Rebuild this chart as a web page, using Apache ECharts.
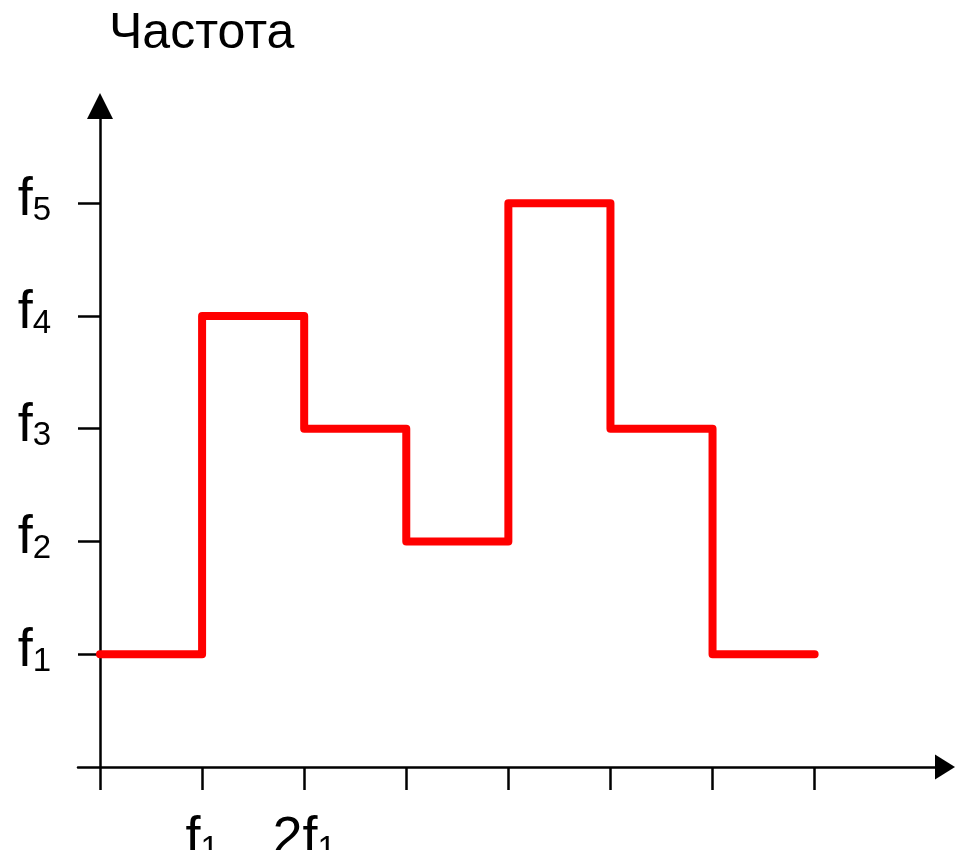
<!DOCTYPE html>
<html>
<head>
<meta charset="utf-8">
<script src="https://cdn.jsdelivr.net/npm/echarts@6/dist/echarts.min.js"></script>
<style>
html,body{margin:0;padding:0;background:#fff;}
#chart{width:955px;height:850px;}
</style>
</head>
<body>
<div id="chart"></div>
<script>
// Data
var titleText = 'Частота';
var levels = [1, 4, 3, 2, 5, 3, 1];           // frequency level on each interval
var xTickValues = [0, 1, 2, 3, 4, 5, 6, 7];
var xLabelValues = [1, 2];
var xLabelTexts = ['{f|f}{s|1}', '{f|2f}{s|1}'];
var yTickValues = [1, 2, 3, 4, 5];
var yLabelTexts = ['{f|f}{s|1}', '{f|f}{s|2}', '{f|f}{s|3}', '{f|f}{s|4}', '{f|f}{s|5}'];

var stepData = levels.map(function (v, i) { return [i, v]; });
stepData.push([levels.length, levels[levels.length - 1]]);

var FONT = 'Liberation Sans';
var rich = {
  f: { fontSize: 54, lineHeight: 54, fontFamily: FONT, color: '#000', verticalAlign: 'bottom' },
  s: { fontSize: 33, lineHeight: 39, fontFamily: FONT, color: '#000', verticalAlign: 'bottom' }
};

var chart = echarts.init(document.getElementById('chart'), null, { renderer: 'canvas' });
chart.setOption({
  animation: false,
  backgroundColor: '#fff',
  title: {
    text: titleText,
    left: 104,
    top: 4,
    textStyle: { fontFamily: FONT, fontSize: 50, fontWeight: 'normal', color: '#000' }
  },
  grid: { left: 78, right: 10, top: 106, bottom: 83, containLabel: false, outerBoundsMode: 'none' },
  xAxis: {
    type: 'value',
    min: -0.2155,
    max: 8.277,
    splitLine: { show: false },
    axisLine: {
      show: true, onZero: false,
      lineStyle: { color: '#000', width: 2.5 },
      symbol: ['none', 'triangle'],
      symbolSize: [25, 20]
    },
    axisTick: {
      show: true, length: 23, inside: false,
      lineStyle: { color: '#000', width: 2.5 },
      customValues: xTickValues
    },
    axisLabel: {
      show: true, margin: 45,
      customValues: xLabelValues,
      formatter: function (v) {
        var i = xLabelValues.indexOf(Math.round(v));
        return i >= 0 ? xLabelTexts[i] : '';
      },
      rich: rich
    }
  },
  yAxis: {
    type: 'value',
    min: 0,
    max: 5.8625,
    splitLine: { show: false },
    axisLine: {
      show: true, onZero: true,
      lineStyle: { color: '#000', width: 2.5 },
      symbol: ['none', 'triangle'],
      symbolSize: [26, 26]
    },
    axisTick: {
      show: true, length: 22, inside: false,
      lineStyle: { color: '#000', width: 2.5 },
      customValues: yTickValues
    },
    axisLabel: {
      show: true, margin: 27,
      padding: [0, 0, 6, 0],
      customValues: yTickValues,
      formatter: function (v) {
        var i = yTickValues.indexOf(Math.round(v));
        return i >= 0 ? yLabelTexts[i] : '';
      },
      rich: rich
    }
  },
  series: [{
    type: 'line',
    step: 'end',
    data: stepData,
    showSymbol: false,
    symbol: 'none',
    lineStyle: { color: '#ff0000', width: 8, cap: 'round', join: 'round' },
    z: 5
  }]
});
</script>
</body>
</html>
